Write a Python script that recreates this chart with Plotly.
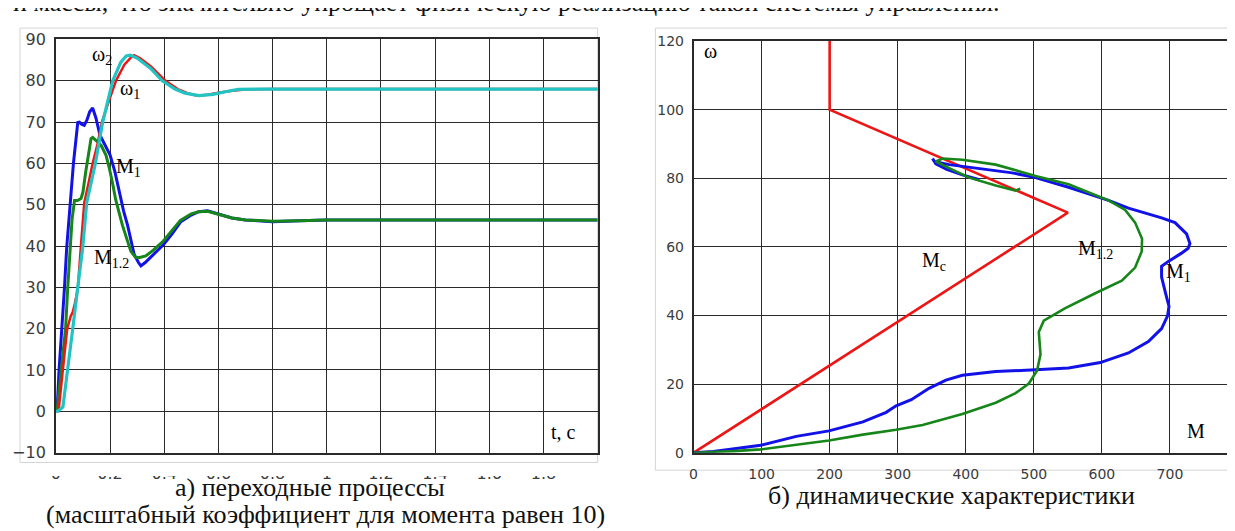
import plotly.graph_objects as go

W, H = 1235, 531

# ---------------- data: left chart (transients) ----------------
t_omega1 = [0, 0.01, 0.026, 0.042, 0.055, 0.0625, 0.07, 0.081, 0.093, 0.105, 0.12, 0.136, 0.155, 0.17,
            0.197, 0.222, 0.253, 0.275, 0.289, 0.31, 0.35, 0.405, 0.45, 0.49, 0.523, 0.56, 0.6, 0.65,
            0.7, 0.8, 1.0, 1.5, 2.0]
omega1 = [0, 0, 10, 20, 23, 24, 26, 29.5, 40.3, 50.5, 55, 60, 65, 70,
          75.3, 80, 83.9, 85.5, 86.2, 85.5, 83.5, 80, 78, 76.9, 76.4, 76.6, 77.1, 77.6,
          77.9, 78, 78, 78, 78]

t_omega2 = [0, 0.007, 0.026, 0.044, 0.0625, 0.081, 0.099, 0.114, 0.13, 0.146, 0.173, 0.21, 0.24, 0.26,
            0.275, 0.3, 0.35, 0.393, 0.44, 0.477, 0.528, 0.58, 0.63, 0.674, 0.75, 1.0, 1.5, 2.0]
omega2 = [0, 0, 1, 10, 20, 30, 39.5, 50.5, 55.5, 60, 70, 80, 84.5, 86,
          86.2, 85.5, 83, 80, 78, 77, 76.4, 76.7, 77.4, 77.9, 78, 78, 78, 78]

t_m1 = [0, 0.006, 0.012, 0.023, 0.032, 0.040, 0.053, 0.065, 0.081, 0.087, 0.095, 0.105, 0.115, 0.125,
        0.136, 0.148, 0.163, 0.18, 0.2, 0.218, 0.234, 0.25, 0.265, 0.289, 0.305, 0.314, 0.33, 0.36,
        0.397, 0.43, 0.46, 0.5, 0.527, 0.56, 0.6, 0.65, 0.7, 0.8, 0.9, 1.0, 2.0]
m1 = [0, 2, 10, 20, 30, 39.5, 50.5, 60, 69.9, 70, 69.5, 69.2, 70.5, 72.5,
      73.4, 71, 66.8, 64.5, 62.1, 58, 52.8, 48.5, 45, 38, 36, 35.2, 36, 38,
      40.3, 43, 45.8, 47.5, 48.3, 48.5, 47.8, 46.8, 46.3, 45.9, 46.1, 46.3, 46.3]

t_m12 = [0, 0.006, 0.02, 0.036, 0.044, 0.053, 0.06, 0.069, 0.08, 0.093, 0.1, 0.111, 0.122, 0.13,
         0.136, 0.15, 0.167, 0.185, 0.197, 0.21, 0.221, 0.246, 0.277, 0.295, 0.31, 0.332, 0.36,
         0.397, 0.43, 0.46, 0.5, 0.527, 0.56, 0.6, 0.65, 0.7, 0.8, 0.9, 1.0, 2.0]
m12 = [0, 1, 10, 20, 30, 39.5, 46.5, 51, 51, 51.5, 53, 58.2, 63, 66,
       66.3, 65.5, 64.4, 62, 59, 55, 51.2, 45, 38.7, 37.2, 37.2, 37.6, 39,
       41.2, 43.8, 46.2, 47.8, 48.3, 48.4, 47.7, 46.8, 46.3, 46, 46.1, 46.3, 46.3]

left_x_ticks = [0, 0.2, 0.4, 0.6, 0.8, 1.0, 1.2, 1.4, 1.6, 1.8]
left_x_labels = ["0", "0.2", "0.4", "0.6", "0.8", "1", "1.2", "1.4", "1.6", "1.8"]

# ---------------- data: right chart (dynamic characteristics) ----------------
mc_M = [0, 550, 200, 200]
mc_w = [0, 70, 100, 120]

dyn1_M = [0, 29, 60, 98.6, 151, 199, 248.8, 283, 297.6, 320, 346, 370.8, 395, 444, 502.5, 551,
          597.6, 639, 668.3, 687.7, 696.5, 698.6, 693.6, 687.7, 687.7, 697.6, 717, 726.8, 729.3,
          724.4, 707.4, 687.7, 639, 609.7, 551, 502.5, 468.3, 409.7, 375.6, 353.7, 351.2,
          356, 372, 395, 420]
dyn1_w = [0, 0.4, 1.2, 2.2, 4.8, 6.4, 9, 11.8, 13.7, 15.5, 18.8, 21.2, 22.6, 23.7, 24.2, 24.7,
          26.3, 29.1, 32.4, 36.2, 39.9, 42.7, 46.5, 51.2, 54.4, 55.8, 58.2, 59.6, 61,
          63.8, 67.1, 68.5, 71.3, 73.6, 77.4, 80.2, 81.6, 83, 84, 84.9, 85.8,
          84.2, 82.6, 81, 79.6]

dyn12_M = [0, 29, 60, 98.6, 151, 199, 248.8, 297.6, 336.6, 370.8, 395, 444, 473.2, 492.7, 504.8,
           509.8, 507.3, 514.6, 531.7, 546.3, 590.3, 629.2, 648.8, 658.5, 659, 648.8, 634.2, 609.7,
           551, 502.5, 444, 395, 366, 356, 375.6, 405, 444, 473.2, 480]
dyn12_w = [0, 0.2, 0.5, 1, 2.4, 3.6, 5.3, 6.7, 8.1, 9.9, 11.3, 14.6, 17.4, 20.2, 24,
           28.7, 35.2, 38.5, 40.4, 42.2, 46.5, 50.2, 54, 58.7, 62.4, 67.1, 70.8, 73.6,
           78.3, 80.7, 84, 85.4, 85.8, 84.9, 83, 80.2, 77.9, 76.4, 77]

right_x_last_label = "800"

# ---------------- styles ----------------
BLUE = "#1212e8"
GREEN = "#17861a"
RED = "#ee1515"
CYAN = "#22c3c3"
GRID = "#2a2a2a"
TICKC = "#3c3c3c"
SERIF = "Liberation Serif"

fig = go.Figure()

fig.add_trace(go.Scatter(x=t_m1, y=m1, mode="lines", line=dict(color=BLUE, width=3), xaxis="x", yaxis="y"))
fig.add_trace(go.Scatter(x=t_m12, y=m12, mode="lines", line=dict(color=GREEN, width=3), xaxis="x", yaxis="y"))
fig.add_trace(go.Scatter(x=t_omega1, y=omega1, mode="lines", line=dict(color=RED, width=2.5), xaxis="x", yaxis="y"))
fig.add_trace(go.Scatter(x=t_omega2, y=omega2, mode="lines", line=dict(color=CYAN, width=3.2), xaxis="x", yaxis="y"))

fig.add_trace(go.Scatter(x=mc_M, y=mc_w, mode="lines", line=dict(color=RED, width=2.6), xaxis="x2", yaxis="y2"))
fig.add_trace(go.Scatter(x=dyn1_M, y=dyn1_w, mode="lines", line=dict(color=BLUE, width=3), xaxis="x2", yaxis="y2"))
fig.add_trace(go.Scatter(x=dyn12_M, y=dyn12_w, mode="lines", line=dict(color=GREEN, width=2.6), xaxis="x2", yaxis="y2"))

axis_common = dict(showgrid=True, gridcolor=GRID, gridwidth=1.4, showline=True, mirror=True,
                   linecolor=GRID, linewidth=1.5, zeroline=False, ticks="")

fig.update_layout(
    width=W, height=H, margin=dict(l=0, r=0, t=0, b=0),
    paper_bgcolor="white", plot_bgcolor="white", showlegend=False,
    xaxis=dict(domain=[43 / W, 587 / W], range=[0, 2], tickvals=left_x_ticks, ticktext=left_x_labels,
               anchor="y", ticklabelstandoff=6,
               tickfont=dict(family="DejaVu Sans", size=16, color=TICKC), **axis_common),
    yaxis=dict(domain=[1 - 451.7 / H, 1 - 23.3 / H], range=[-10, 90], dtick=10, tick0=0,
               anchor="x", ticklabelstandoff=5,
               tickfont=dict(family="DejaVu Sans", size=16, color=TICKC), **axis_common),
    xaxis2=dict(domain=[683.3 / W, 1230 / W], range=[0, 800], dtick=100, tick0=0,
                anchor="y2", ticklabelstandoff=8,
                tickfont=dict(family="DejaVu Sans", size=14, color=TICKC), **axis_common),
    yaxis2=dict(domain=[1 - 452 / H, 1 - 25 / H], range=[0, 120], dtick=20, tick0=0,
                anchor="x2", ticklabelstandoff=5,
                tickfont=dict(family="DejaVu Sans", size=14, color=TICKC), **axis_common),
)

# light frames of the two pictures + cover for the clipped tick labels
shapes = [
    dict(type="rect", xref="paper", yref="paper", x0=7 / W, x1=587 / W, y0=1 - 462 / H, y1=1 - 11.5 / H,
         line=dict(color="#d4d4d4", width=1), layer="below"),
    dict(type="rect", xref="paper", yref="paper", x0=645 / W, x1=1233 / W, y0=1 - 470 / H, y1=1 - 11.5 / H,
         line=dict(color="#d4d4d4", width=1), layer="below"),
    dict(type="rect", xref="paper", yref="paper", x0=0, x1=600 / W, y0=1 - 476 / H, y1=1 - 464.5 / H,
         line=dict(width=0), fillcolor="white", layer="above"),
]
fig.update_layout(shapes=shapes)

ann = []
def lab(text, x, y, xr, yr, size=20):
    ann.append(dict(text=text, x=x, y=y, xref=xr, yref=yr, showarrow=False,
                    font=dict(family=SERIF, size=size, color="black"),
                    xanchor="center", yanchor="middle"))

# left chart labels
lab("ω<sub>2</sub>", 0.169, 86.0, "x", "y")
lab("ω<sub>1</sub>", 0.274, 78.0, "x", "y")
lab("M<sub>1</sub>", 0.267, 59.0, "x", "y")
lab("M<sub>1.2</sub>", 0.206, 37.0, "x", "y")
lab("t, c", 1.875, -5.1, "x", "y")
# right chart labels
lab("ω", 24.4, 117.1, "x2", "y2")
lab("M<sub>c</sub>", 353, 55.8, "x2", "y2")
lab("M<sub>1.2</sub>", 590, 59.2, "x2", "y2")
lab("M<sub>1</sub>", 713, 52.6, "x2", "y2")
lab("M", 737.8, 6.3, "x2", "y2")

# last tick label of the right x axis, clipped by the page edge as in the picture
ann.append(dict(text=right_x_last_label, x=1217 / W, xref="paper", y=1 - 467 / H, yref="paper",
                showarrow=False, font=dict(family="DejaVu Sans", size=14, color=TICKC),
                xanchor="left", yanchor="middle"))

# captions
def cap(text, xc, yc, size=26):
    ann.append(dict(text=text, x=xc / W, y=1 - yc / H, xref="paper", yref="paper", showarrow=False,
                    font=dict(family=SERIF, size=size, color="#111111"),
                    xanchor="center", yanchor="middle"))

cap("а) переходные процессы", 298, 488)
cap("(масштабный коэффициент для момента равен 10)", 314, 516)
cap("б) динамические характеристики", 942, 496)
# top text line, mostly outside of the page
ann.append(dict(text="и массы, что значительно упрощает физическую реализацию такой системы управления.",
                x=-2 / W, y=1 + 15 / H, xref="paper", yref="paper", showarrow=False,
                font=dict(family=SERIF, size=26, color="#111111"),
                xanchor="left", yanchor="middle"))

fig.update_layout(annotations=ann)

fig.write_html("out.html")
